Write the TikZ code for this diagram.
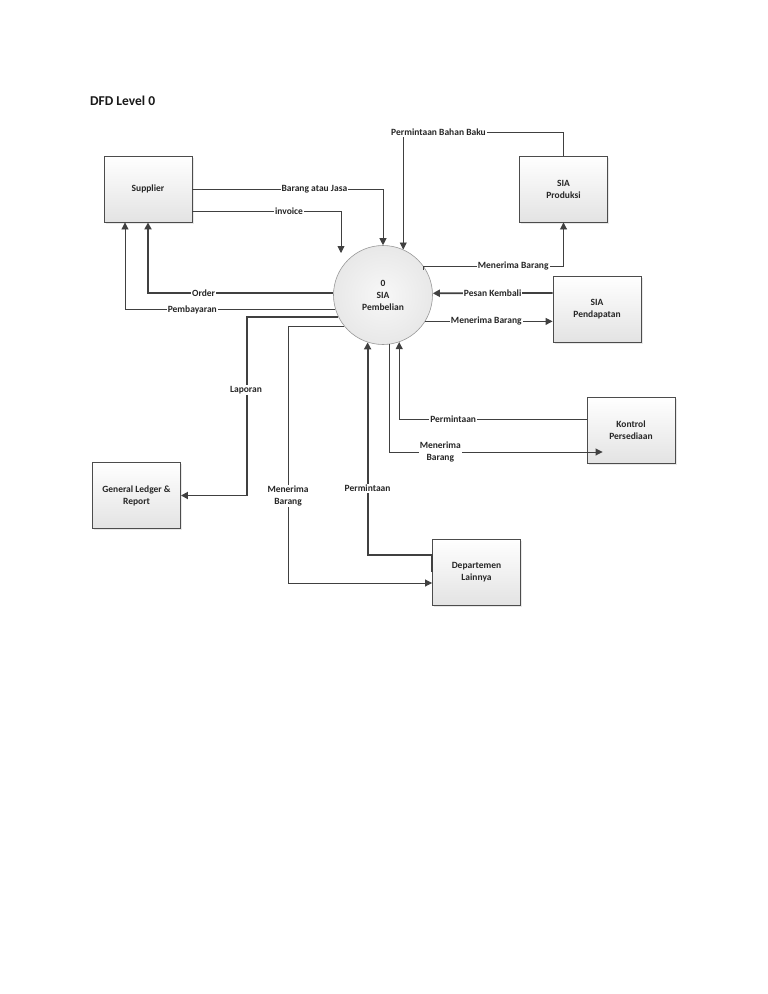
\documentclass[tikz,border=0pt]{standalone}
\usepackage{fontspec}
\setmainfont{Carlito}
\usetikzlibrary{arrows.meta,shadows}
\begin{document}
\begin{tikzpicture}[x=1pt,y=-1pt,
  txt/.style={font=\fontsize{9.5}{12}\selectfont\bfseries, text=black!85},
  ent/.style={txt, draw=black!70, line width=0.9pt, top color=white, bottom color=black!11,
    minimum width=88pt, minimum height=66pt, align=center,
    drop shadow={opacity=0.18, shadow xshift=1.5pt, shadow yshift=-1.5pt}},
  proc/.style={txt, circle, draw=black!40, line width=0.6pt, inner color=black!3, outer color=black!9,
    minimum size=99pt, inner sep=0pt, align=center},
  plain/.style={draw=black!75, line width=0.9pt},
  flow/.style={plain, -{Triangle[length=7pt,width=7pt]}},
  thickflow/.style={flow, line width=1.8pt},
  lbl/.style={txt, fill=white, inner sep=1pt, align=center},
]
\useasboundingbox (0,0) rectangle (768,994);
\fill[white] (0,0) rectangle (768,994);

\node[font=\fontsize{13.5}{16}\selectfont\bfseries, text=black!90, anchor=base west, inner sep=0pt] (title) at (90,105) {DFD Level 0};

\node[ent] (sup) at (148,189) {Supplier};
\node[ent] (prod) at (563.5,189) {SIA\\Produksi};
\node[proc] (circ) at (383,295) {0\\SIA\\Pembelian};
\node[ent] (pend) at (597,309) {SIA\\Pendapatan};
\node[ent] (kon) at (631,430.5) {Kontrol\\Persediaan};
\node[ent] (gl) at (136.5,495.5) {General Ledger \&\\Report};
\node[ent] (dept) at (476.5,572) {Departemen\\Lainnya};

\coordinate (invEnd) at (341,253);

% Supplier -> process
\draw[flow] (sup.east) -| node[lbl,pos=0.32]{Barang atau Jasa} (circ.north);
\draw[flow] ([yshift=-22pt]sup.east) -| node[lbl,pos=0.325]{invoice} (invEnd);

% process -> Supplier
\draw[thickflow] (circ.178) -| node[lbl,pos=0.35]{Order} (sup.south);
\draw[flow] (circ.197) -| node[lbl,pos=0.34]{Pembayaran} ([xshift=-23pt]sup.south);

% SIA Produksi
\draw[flow] (prod.north) -- ++(0,-23) -| node[lbl,pos=0.39]{Permintaan Bahan Baku} (circ.66);
\draw[plain] (circ.35) -- ([yshift=-4pt]circ.35);
\draw[flow] (circ.35) -| node[lbl,pos=0.32]{Menerima Barang} (prod.south);

% SIA Pendapatan
\draw[thickflow] ([yshift=16pt]pend.west) -- node[lbl,pos=0.5]{Pesan Kembali} (circ.2);
\draw[flow] (circ.328) -- node[lbl,pos=0.48]{Menerima Barang} (pend.west |- circ.328);

% General Ledger
\draw[thickflow] (circ.206) -| ([xshift=66pt]gl.east) -- (gl.east);
\node[lbl] (laplbl) at (246,390) {Laporan};

% Departemen Lainnya
\draw[flow] (circ.219) -| node[lbl,pos=0.83]{Menerima\\Barang} ([xshift=-144pt,yshift=-11pt]dept.west) -- ([yshift=-11pt]dept.west);
\draw[thickflow] (dept.west) -- ++(0,-17) -| node[lbl,pos=0.657]{Permintaan} (circ.252);

% Kontrol Persediaan
\draw[flow] ([yshift=11.5pt]kon.west) -| node[lbl,pos=0.356]{Permintaan} (circ.289);
\draw[flow] (circ.277) |- node[lbl,pos=0.62]{Menerima\\Barang} ([xshift=16pt,yshift=-21.5pt]kon.west);
\end{tikzpicture}
\end{document}
